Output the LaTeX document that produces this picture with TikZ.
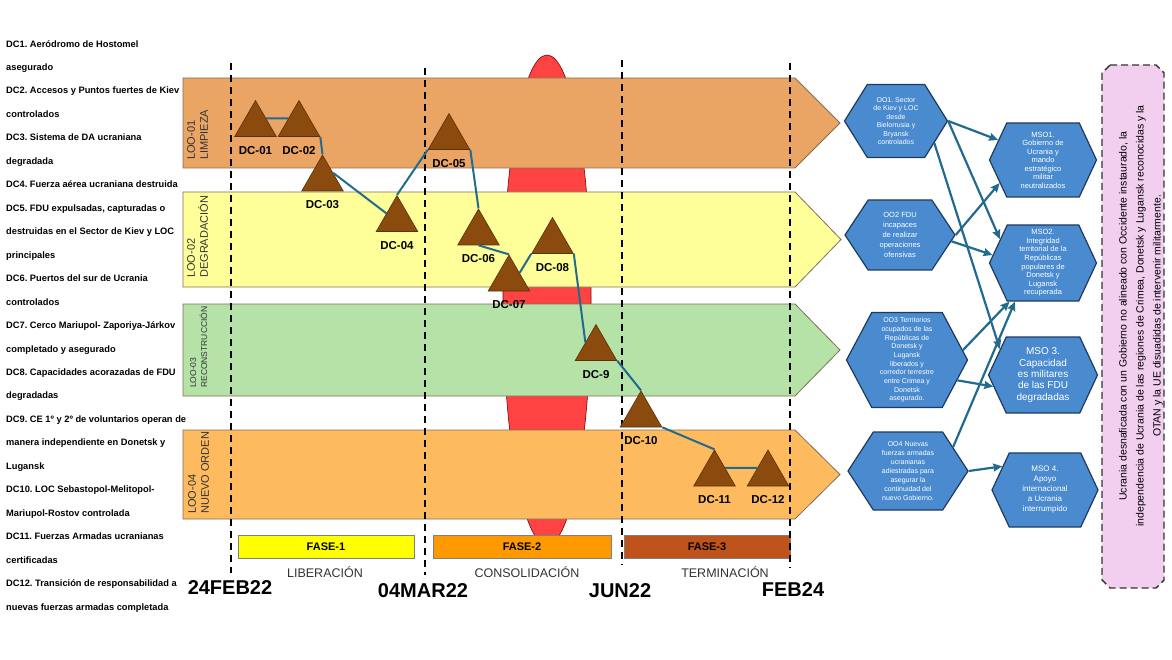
\documentclass[tikz,border=0pt]{standalone}
\usepackage{fontspec}
\setmainfont{Liberation Sans}
\usetikzlibrary{shapes.geometric,shapes.symbols,positioning,arrows.meta}
\frenchspacing

\definecolor{loouno}{HTML}{EAA464}
\definecolor{loodos}{HTML}{FFFF99}
\definecolor{lootres}{HTML}{B4E2A7}
\definecolor{loocuatro}{HTML}{FDBA5F}
\definecolor{bandline}{HTML}{7F6F5A}
\definecolor{cerco}{HTML}{FF4343}
\definecolor{dcfill}{HTML}{8B4A0E}
\definecolor{dcline}{HTML}{5C3008}
\definecolor{azulenlace}{HTML}{236B8E}
\definecolor{hexfill}{HTML}{4A8BD0}
\definecolor{hexline}{HTML}{1F3A5F}
\definecolor{estadofinal}{HTML}{F2CEEF}
\definecolor{faseuno}{HTML}{FFFF00}
\definecolor{fasedos}{HTML}{FF9900}
\definecolor{fasetres}{HTML}{C0521B}

\newcommand{\dcfont}{\fontsize{11.5}{13}\selectfont\bfseries}

\tikzset{
    dc/.style={regular polygon, regular polygon sides=3, minimum size=48pt, inner sep=0pt,
        fill=dcfill, draw=dcline, line width=0.6pt,
        label={[font=\dcfont, inner sep=1pt, label distance=8pt]below:#1}},
    loo/.style={draw=bandline, line width=0.8pt},
    loolabel/.style={rotate=90, anchor=north west, align=left, inner sep=0pt, text=black!80},
    fase/.style={draw=black!50, line width=0.6pt, minimum height=23pt, inner sep=0pt,
        font=\fontsize{11}{12}\selectfont\bfseries},
    etapa/.style={font=\fontsize{12.5}{14}\selectfont, text=black!80, inner sep=0pt},
    fecha/.style={font=\fontsize{20}{22}\selectfont\bfseries, inner sep=0pt},
    corte/.style={line width=1.6pt, dash pattern=on 7pt off 5pt},
    enlace/.style={draw=azulenlace, line width=2pt},
    hexa/.style={signal, signal to=east and west, draw=hexline, line width=1.2pt,
        fill=hexfill, text=white, align=center, inner sep=1pt},
    flecha/.style={->, draw=azulenlace, line width=2.2pt},
}

\begin{document}
\begin{tikzpicture}[x=1pt, y=-1pt, >={Stealth[length=9pt, width=8pt, inset=1pt]}]
    \useasboundingbox (0,0) rectangle (1172,660);

    % cerco
    \filldraw[fill=cerco, draw=red!50!black, line width=0.6pt] (547,300) ellipse [x radius=44pt, y radius=245pt];

    % lineas de operacion
    \filldraw[loo, fill=loouno] (183,78) -- (795,78) -- (840,123) -- (795,168) -- (183,168) -- cycle;
    \filldraw[loo, fill=loodos] (183,192) -- (795,192) -- (841,239.5) -- (795,287) -- (183,287) -- cycle;
    \filldraw[loo, fill=lootres] (183,304) -- (795,304) -- (840,350) -- (795,396) -- (183,396) -- cycle;
    \filldraw[loo, fill=loocuatro] (183,430) -- (795,430) -- (840,474.5) -- (795,519) -- (183,519) -- cycle;

    \node[loolabel, font=\fontsize{11}{13}\selectfont] (loo1) at (187,160) {LOO-01\\LIMPIEZA};
    \node[loolabel, font=\fontsize{11}{13}\selectfont] (loo2) at (187,278) {LOO-02\\DEGRADACIÓN};
    \node[loolabel, font=\fontsize{8.5}{11}\selectfont] (loo3) at (190,388) {LOO-03\\RECONSTRUCCIÓN};
    \node[loolabel, font=\fontsize{11}{13}\selectfont] (loo4) at (188,514) {LOO-04\\NUEVO ORDEN};

    % fases
    \node[fase, fill=faseuno, minimum width=176pt] (fase1) at (326,546.5) {FASE-1};
    \node[fase, fill=fasedos, minimum width=178pt] (fase2) at (522,546.5) {FASE-2};
    \node[fase, fill=fasetres, minimum width=166pt] (fase3) at (707,546.5) {FASE-3};
    \node[etapa] (lib) at (325,572) {LIBERACIÓN};
    \node[etapa] (con) at (527,572) {CONSOLIDACIÓN};
    \node[etapa] (ter) at (725,572) {TERMINACIÓN};

    % hitos temporales
    \draw[corte] (231,63) -- (231,573);
    \draw[corte] (425,68) -- (425,575);
    \draw[corte] (622,60) -- (622,565);
    \draw[corte] (790,63) -- (790,568);
    \node[fecha] (f1) at (230,588) {24FEB22};
    \node[fecha] (f2) at (423,591) {04MAR22};
    \node[fecha] (f3) at (620,591) {JUN22};
    \node[fecha] (f4) at (793,590) {FEB24};

    % puntos decisivos
    \node[dc=DC-01] (dc01) at (255.5,124.5) {};
    \node[dc=DC-02] (dc02) at (299,124.5) {};
    \node[dc=DC-03] (dc03) at (322.5,179) {};
    \node[dc=DC-04] (dc04) at (397,219.5) {};
    \node[dc=DC-05] (dc05) at (449,137.5) {};
    \node[dc=DC-06] (dc06) at (478.5,233) {};
    \node[dc=DC-07] (dc07) at (509,279) {};
    \node[dc=DC-08] (dc08) at (552.5,241.5) {};
    \node[dc=DC-9] (dc09) at (596,348.5) {};
    \node[dc=DC-10] (dc10) at (641,415) {};
    \node[dc=DC-11] (dc11) at (714.5,474) {};
    \node[dc=DC-12] (dc12) at (768,474) {};
    \draw[enlace] (dc01.side 3) -- (dc02.side 1)
        (dc02.corner 3) -- (dc03.corner 1)
        (dc03.side 3) -- (dc04.side 1)
        (dc04.corner 1) -- (dc05.corner 2)
        (dc05.corner 3) -- (dc06.corner 1)
        (dc06.side 2) -- (dc07.corner 1)
        (dc07.side 3) -- (dc08.corner 2)
        (dc08.corner 3) -- (dc09.side 1)
        (dc09.corner 3) -- (dc10.corner 1)
        (dc10.corner 3) -- (dc11.corner 1)
        (dc11.side 3) -- (dc12.side 1);

    % lista de puntos decisivos
    \node[anchor=north west, align=left, inner sep=0pt, font=\fontsize{9.3}{23.46}\selectfont\bfseries] (lista) at (6,40) {DC1. Aeródromo de Hostomel\\asegurado\\DC2. Accesos y Puntos fuertes de Kiev\\controlados\\DC3. Sistema de DA ucraniana\\degradada\\DC4. Fuerza aérea ucraniana destruida\\DC5. FDU expulsadas, capturadas o\\destruidas en el Sector de Kiev y LOC\\principales\\DC6. Puertos del sur de Ucrania\\controlados\\DC7. Cerco Mariupol- Zaporiya-Járkov\\completado y asegurado\\DC8. Capacidades acorazadas de FDU\\degradadas\\DC9. CE 1º y 2º de voluntarios operan de\\manera independiente en Donetsk y\\Lugansk\\DC10. LOC Sebastopol-Melitopol-\\Mariupol-Rostov controlada\\DC11. Fuerzas Armadas ucranianas\\certificadas\\DC12. Transición de responsabilidad a\\nuevas fuerzas armadas completada};

    % objetivos operacionales
    \node[hexa, signal pointer angle=116, minimum width=103pt, minimum height=73pt, font=\fontsize{7}{8.4}\selectfont] (oo1) at (896,121) {OO1. Sector\\de Kiev y LOC\\desde\\Bielorrusia y\\Bryansk\\controlados};
    \node[hexa, signal pointer angle=113, minimum width=110pt, minimum height=70pt, font=\fontsize{7.5}{10}\selectfont] (oo2) at (900,235) {OO2 FDU\\incapaces\\de realizar\\operaciones\\ofensivas};
    \node[hexa, signal pointer angle=124, minimum width=121pt, minimum height=95pt, font=\fontsize{7}{8.7}\selectfont] (oo3) at (907,360) {OO3 Territorios\\ocupados de las\\Repúblicas de\\Donetsk y\\Lugansk\\liberados y\\corredor terrestre\\entre Crimea y\\Donetsk\\asegurado.};
    \node[hexa, signal pointer angle=114, minimum width=120pt, minimum height=78pt, font=\fontsize{7}{9}\selectfont] (oo4) at (908,471) {OO4 Nuevas\\fuerzas armadas\\ucranianas\\adiestradas para\\asegurar la\\continuidad del\\nuevo Gobierno.};

    % objetivos estrategicos militares
    \node[hexa, signal pointer angle=130, minimum width=107pt, minimum height=74pt, font=\fontsize{7.5}{8.5}\selectfont] (mso1) at (1043,160) {MSO1.\\Gobierno de\\Ucrania y\\mando\\estratégico\\militar\\neutralizados};
    \node[hexa, signal pointer angle=130, minimum width=107pt, minimum height=76pt, font=\fontsize{7.5}{8.6}\selectfont] (mso2) at (1043,263) {MSO2.\\Integridad\\territorial de la\\Repúblicas\\populares de\\Donetsk y\\Lugansk\\recuperada};
    \node[hexa, signal pointer angle=130, minimum width=109pt, minimum height=76pt, font=\fontsize{10}{11.4}\selectfont] (mso3) at (1043,375) {MSO 3.\\Capacidad\\es militares\\de las FDU\\degradadas};
    \node[hexa, signal pointer angle=130, minimum width=106pt, minimum height=74pt, font=\fontsize{8}{10}\selectfont] (mso4) at (1045,490) {MSO 4.\\Apoyo\\internacional\\a Ucrania\\interrumpido};

    \draw[flecha] (oo1.east) -- (mso1.156);
    \draw[flecha] (oo1.east) -- (mso2.151);
    \draw[flecha] (oo1.-30) -- (mso3.149);
    \draw[flecha] (oo2.east) -- (mso1.208);
    \draw[flecha] (oo2.-7) -- (mso2.171);
    \draw[flecha] (oo3.10) -- (mso2.229);
    \draw[flecha] (oo3.-22) -- (mso3.193);
    \draw[flecha] (oo4.28) -- (mso2.234);
    \draw[flecha] (oo4.east) -- (mso4.151);

    % estado final
    \filldraw[fill=estadofinal, draw=black!80, line width=1.4pt, dash pattern=on 7pt off 4pt] (1110,65) -- (1156,65) -- (1164,73) -- (1164,580) -- (1156,588) -- (1110,588) -- (1102,580) -- (1102,73) -- cycle;
    \node[rotate=90, align=center, inner sep=0pt, font=\fontsize{10.5}{17}\selectfont] (estado) at (1141,316) {Ucrania desnaficada con un Gobierno no alineado con Occidente instaurado, la\\independencia de Ucrania de las regiones de Crimea, Donetsk y Lugansk reconocidas y la\\OTAN y la UE disuadidas de intervenir militarmente.};
\end{tikzpicture}
\end{document}
